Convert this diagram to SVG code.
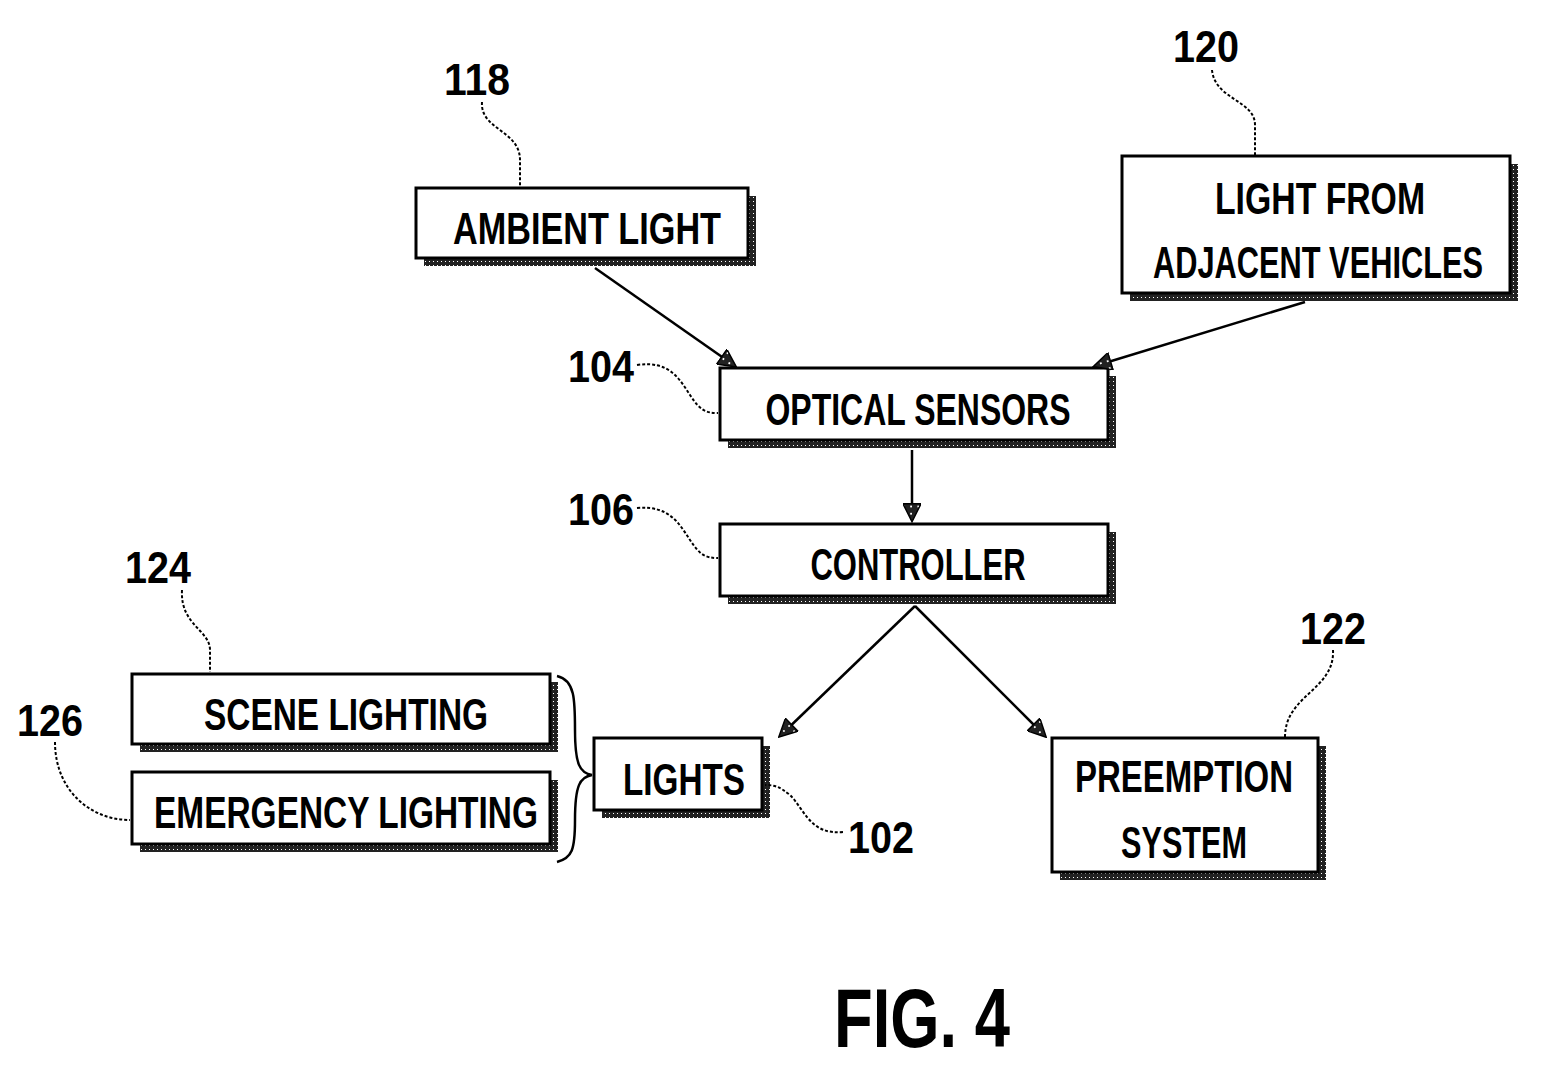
<svg xmlns="http://www.w3.org/2000/svg" width="1541" height="1071" viewBox="0 0 1541 1071">
<defs>
<pattern id="dots" width="4" height="4" patternUnits="userSpaceOnUse"><rect width="4" height="4" fill="#222"/><rect x="1" y="1" width="1" height="1" fill="#fff"/></pattern>
<marker id="arr" viewBox="0 0 10 10" refX="9" refY="5" markerWidth="20" markerHeight="18" orient="auto" markerUnits="userSpaceOnUse"><path d="M0,0 L10,5 L0,10 z" fill="url(#dots)" stroke="#000" stroke-width="0.8"/></marker>
</defs>
<style>
.sh{fill:url(#dots)}
.bx{fill:#fff;stroke:#000;stroke-width:3}
.t{font-family:"Liberation Sans",Arial,sans-serif;font-weight:bold;font-size:44px;text-anchor:middle;fill:#000}
.c{fill:none;stroke:#000;stroke-width:2.5}
.l{fill:none;stroke:#000;stroke-width:2;stroke-dasharray:3 2}
</style>
<rect width="1541" height="1071" fill="#fff"/>
<g id="n118"><rect class="sh" x="424" y="196" width="332" height="70"/><rect class="bx" x="416" y="188" width="332" height="70"/><text class="t" x="587" y="244" textLength="268" lengthAdjust="spacingAndGlyphs">AMBIENT LIGHT</text></g>
<g id="n120"><rect class="sh" x="1130" y="164" width="388" height="137"/><rect class="bx" x="1122" y="156" width="388" height="137"/><text class="t" x="1320" y="214" textLength="210" lengthAdjust="spacingAndGlyphs">LIGHT FROM</text><text class="t" x="1318" y="278" textLength="330" lengthAdjust="spacingAndGlyphs">ADJACENT VEHICLES</text></g>
<g id="n104"><rect class="sh" x="728" y="376" width="388" height="72"/><rect class="bx" x="720" y="368" width="388" height="72"/><text class="t" x="918" y="425" textLength="305" lengthAdjust="spacingAndGlyphs">OPTICAL SENSORS</text></g>
<g id="n106"><rect class="sh" x="728" y="532" width="388" height="72"/><rect class="bx" x="720" y="524" width="388" height="72"/><text class="t" x="918" y="580" textLength="215" lengthAdjust="spacingAndGlyphs">CONTROLLER</text></g>
<g id="n124"><rect class="sh" x="140" y="682" width="418" height="70"/><rect class="bx" x="132" y="674" width="418" height="70"/><text class="t" x="346" y="730" textLength="284" lengthAdjust="spacingAndGlyphs">SCENE LIGHTING</text></g>
<g id="n126"><rect class="sh" x="140" y="780" width="418" height="72"/><rect class="bx" x="132" y="772" width="418" height="72"/><text class="t" x="346" y="828" textLength="384" lengthAdjust="spacingAndGlyphs">EMERGENCY LIGHTING</text></g>
<g id="n102"><rect class="sh" x="602" y="746" width="168" height="72"/><rect class="bx" x="594" y="738" width="168" height="72"/><text class="t" x="684" y="795" textLength="122" lengthAdjust="spacingAndGlyphs">LIGHTS</text></g>
<g id="n122"><rect class="sh" x="1060" y="746" width="266" height="134"/><rect class="bx" x="1052" y="738" width="266" height="134"/><text class="t" x="1184" y="792" textLength="218" lengthAdjust="spacingAndGlyphs">PREEMPTION</text><text class="t" x="1184" y="858" textLength="126" lengthAdjust="spacingAndGlyphs">SYSTEM</text></g>
<g id="connectors">
<path class="c" d="M595,268 L735,366" marker-end="url(#arr)"/>
<path class="c" d="M1305,302 L1095,366" marker-end="url(#arr)"/>
<path class="c" d="M912,450 L912,520" marker-end="url(#arr)"/>
<path class="c" d="M915,606 L780,736" marker-end="url(#arr)"/>
<path class="c" d="M915,606 L1045,736" marker-end="url(#arr)"/>
<path class="l" d="M482,102 C480,130 520,130 520,160 L520,186"/>
<path class="l" d="M1212,70 C1215,100 1255,100 1255,125 L1255,155"/>
<path class="l" d="M637,365 C670,360 680,380 690,395 C700,410 705,413 718,413"/>
<path class="l" d="M637,508 C670,505 680,525 690,540 C700,555 705,558 718,558"/>
<path class="l" d="M182,590 C180,625 210,630 210,650 L210,672"/>
<path class="l" d="M55,742 C55,790 90,820 130,820"/>
<path class="l" d="M843,832 C810,835 805,810 790,795 C780,787 775,785 765,785"/>
<path class="l" d="M1333,650 C1335,690 1285,695 1285,737"/>
<path class="c" stroke-width="2" d="M557,676 C575,680 575,700 575,730 C575,765 580,773 592,775 C580,777 575,785 575,820 C575,850 572,858 557,862"/>
</g>
<text class="t" x="477" y="95" textLength="66" lengthAdjust="spacingAndGlyphs">118</text>
<text class="t" x="1206" y="62" textLength="66" lengthAdjust="spacingAndGlyphs">120</text>
<text class="t" x="601" y="382" textLength="66" lengthAdjust="spacingAndGlyphs">104</text>
<text class="t" x="601" y="525" textLength="66" lengthAdjust="spacingAndGlyphs">106</text>
<text class="t" x="158" y="583" textLength="66" lengthAdjust="spacingAndGlyphs">124</text>
<text class="t" x="50" y="736" textLength="66" lengthAdjust="spacingAndGlyphs">126</text>
<text class="t" x="881" y="853" textLength="66" lengthAdjust="spacingAndGlyphs">102</text>
<text class="t" x="1333" y="644" textLength="66" lengthAdjust="spacingAndGlyphs">122</text>
<text class="t" x="922" y="1047" style="font-size:84px" textLength="176" lengthAdjust="spacingAndGlyphs">FIG. 4</text>
</svg>
